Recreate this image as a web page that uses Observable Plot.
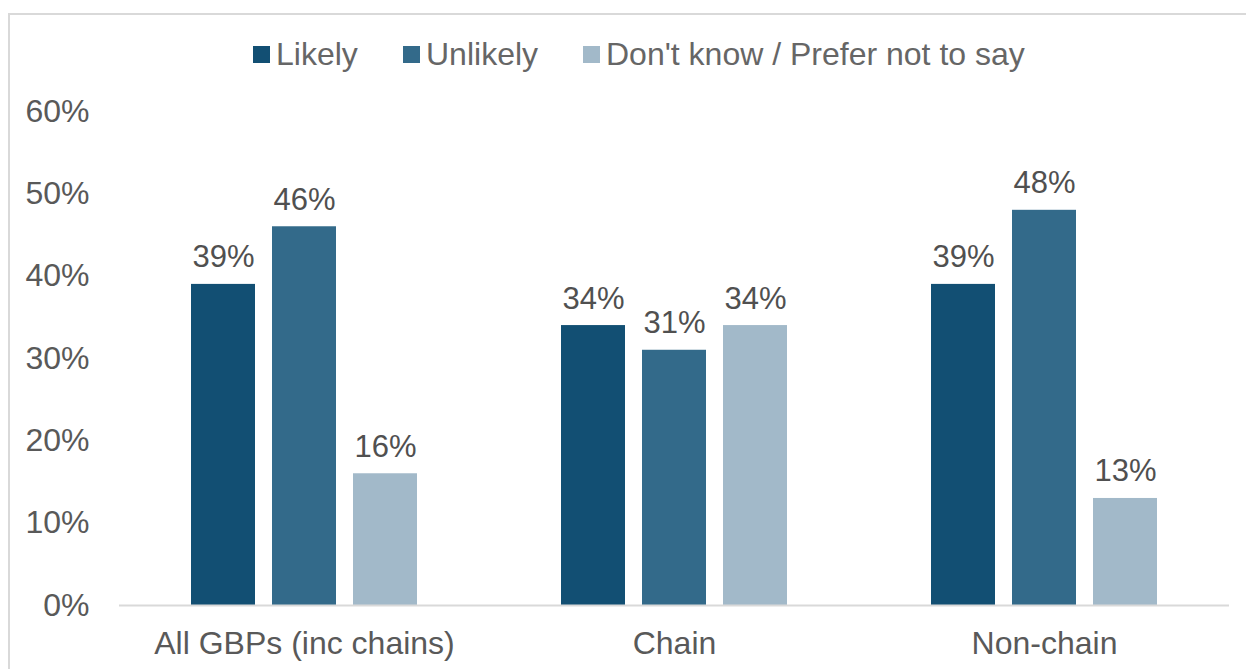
<!DOCTYPE html>
<html>
<head>
<meta charset="utf-8">
<script src="https://cdn.jsdelivr.net/npm/d3@7"></script>
<script src="https://cdn.jsdelivr.net/npm/@observablehq/plot@0.6"></script>
<style>
  html, body { margin: 0; padding: 0; background: #fff; overflow: hidden; }
  body { width: 1246px; height: 669px; position: relative; font-family: "Liberation Sans", Arial, sans-serif; }
  #frame { position: absolute; left: 8px; top: 13px; width: 1300px; height: 700px;
           border-top: 2px solid #d9d9d9; border-left: 2px solid #d9d9d9; box-sizing: border-box; pointer-events: none; }
  #legend { height: 90px; position: relative; }
  .item { position: absolute; top: 36px; display: flex; align-items: center; font-size: 32px; color: #666666; line-height: 36px; }
  .sw { width: 17px; height: 17px; margin-right: 6px; }
  #chart { position: relative; }
</style>
</head>
<body>
<div id="frame"></div>
<div id="legend"></div>
<div id="chart"></div>
<script>
const groups = ["All GBPs (inc chains)", "Chain", "Non-chain"];
const series = ["Likely", "Unlikely", "Don't know / Prefer not to say"];
const colors = ["#124F73", "#336A8A", "#A2B9C9"];
const likely = [39, 34, 39];
const unlikely = [46, 31, 48];
const dontKnow = [16, 34, 13];
const yTicks = [0, 10, 20, 30, 40, 50, 60];

const valuesBySeries = [likely, unlikely, dontKnow];
const data = [];
groups.forEach((g, gi) => {
  series.forEach((s, si) => {
    data.push({group: g, series: s, value: valuesBySeries[si][gi]});
  });
});

// Legend (HTML, above the SVG)
const legend = document.getElementById("legend");
const legendX = [253, 403, 583];
series.forEach((s, i) => {
  const it = document.createElement("div");
  it.className = "item";
  it.style.left = legendX[i] + "px";
  const sw = document.createElement("span");
  sw.className = "sw";
  sw.style.background = colors[i];
  const tx = document.createElement("span");
  tx.textContent = s;
  it.appendChild(sw);
  it.appendChild(tx);
  legend.appendChild(it);
});

const chart = Plot.plot({
  width: 1246,
  height: 579,
  marginLeft: 118,
  marginRight: 17,
  marginTop: 21,
  marginBottom: 64,
  style: { fontFamily: "Liberation Sans, Arial, sans-serif", fontSize: "32px", color: "#595959", background: "transparent" },
  fx: { domain: groups, padding: 0, label: null, axis: "bottom", tickSize: 0, tickPadding: 26 },
  x: { domain: series, paddingInner: 0.213, paddingOuter: 0.863, axis: null },
  y: { domain: [0, 60], axis: null },
  color: { domain: series, range: colors },
  marks: [
    Plot.axisY(yTicks, { tickSize: 0, tickPadding: 30, tickFormat: d => d + "%", fontSize: 32, fill: "#595959", label: null }),
    Plot.barY(data, { fx: "group", x: "series", y: "value", fill: "series" }),
    Plot.ruleY([0], { stroke: "#d9d9d9", strokeWidth: 2 }),
    Plot.text(data, { fx: "group", x: "series", y: "value", text: d => d.value + "%", lineAnchor: "bottom", dy: -17, fontSize: 31, fill: "#505050" })
  ]
});
document.getElementById("chart").appendChild(chart);
</script>
</body>
</html>
